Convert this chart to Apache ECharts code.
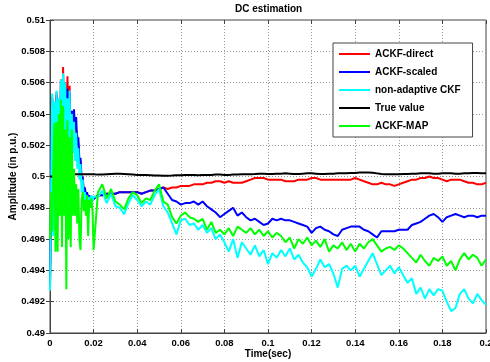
<!DOCTYPE html>
<html>
<head>
<meta charset="utf-8">
<script src="https://cdn.jsdelivr.net/npm/echarts@6/dist/echarts.min.js"></script>
<style>
  html, body { margin: 0; padding: 0; background: #fff; }
  #chart { width: 490px; height: 362px; }
</style>
</head>
<body>
<div id="chart"></div>
<script>
// sample times: 0..0.02 every 0.0005 s, then 0.022..0.2 every 0.002 s
function steps(start, step, n) {
  const out = [];
  for (let i = 0; i < n; i++) out.push(+(start + i * step).toFixed(4));
  return out;
}
const timeEarly = steps(0, 0.0005, 41);
const timeLate = steps(0.022, 0.002, 90);

// values (p.u.)
const directEarly = [0.4930, 0.4992, 0.5051, 0.4966, 0.5047, 0.4973, 0.5054, 0.4979, 0.5050, 0.4993,
  0.5062, 0.4990, 0.5070, 0.5006, 0.5060, 0.4994, 0.5064, 0.5012, 0.5058, 0.5022,
  0.5040, 0.5028, 0.5038, 0.5026, 0.5030, 0.5026, 0.5020, 0.5008, 0.5010, 0.4997,
  0.4999, 0.4989, 0.4992, 0.4986, 0.4989, 0.4985, 0.4987, 0.4984, 0.4986, 0.4985, 0.4986];
const directLate = [0.4988, 0.4988, 0.4989, 0.4989, 0.4989, 0.4990, 0.4990, 0.4990, 0.4990, 0.4990,
  0.4989, 0.4990, 0.4991, 0.4991, 0.4992, 0.4993, 0.4992, 0.4993, 0.4993, 0.4994,
  0.4994, 0.4994, 0.4995, 0.4995, 0.4995, 0.4996, 0.4996, 0.4997, 0.4997, 0.4996,
  0.4997, 0.4996, 0.4996, 0.4996, 0.4997, 0.4998, 0.4999, 0.4999, 0.4999, 0.4998,
  0.4998, 0.4998, 0.4998, 0.4997, 0.4997, 0.4997, 0.4998, 0.4998, 0.4998, 0.4999,
  0.4999, 0.4998, 0.4998, 0.4998, 0.4998, 0.4998, 0.4998, 0.4998, 0.4998, 0.4999,
  0.4998, 0.4997, 0.4996, 0.4995, 0.4995, 0.4996, 0.4995, 0.4995, 0.4994, 0.4995,
  0.4996, 0.4997, 0.4998, 0.4998, 0.4999, 0.4999, 0.5000, 0.4999, 0.4999, 0.4998,
  0.4997, 0.4998, 0.4998, 0.4998, 0.4997, 0.4996, 0.4996, 0.4995, 0.4995, 0.4996];

const scaledEarly = [0.4930, 0.4990, 0.5050, 0.4965, 0.5045, 0.4972, 0.5052, 0.4978, 0.5048, 0.4992,
  0.5060, 0.4988, 0.5065, 0.5005, 0.5058, 0.4992, 0.5056, 0.5010, 0.5054, 0.5020,
  0.5042, 0.5030, 0.5043, 0.5030, 0.5038, 0.5020, 0.5025, 0.5010, 0.5012, 0.4998,
  0.5000, 0.4990, 0.4993, 0.4987, 0.4990, 0.4986, 0.4988, 0.4985, 0.4987, 0.4985, 0.4986];
const scaledLate = [0.4988, 0.4988, 0.4989, 0.4989, 0.4989, 0.4990, 0.4990, 0.4990, 0.4990, 0.4990,
  0.4989, 0.4990, 0.4991, 0.4991, 0.4992, 0.4993, 0.4989, 0.4985, 0.4984, 0.4982,
  0.4983, 0.4983, 0.4984, 0.4982, 0.4984, 0.4981, 0.4979, 0.4977, 0.4974, 0.4976,
  0.4978, 0.4980, 0.4975, 0.4977, 0.4974, 0.4972, 0.4973, 0.4971, 0.4969, 0.4970,
  0.4973, 0.4972, 0.4973, 0.4972, 0.4972, 0.4971, 0.4970, 0.4969, 0.4968, 0.4964,
  0.4967, 0.4968, 0.4966, 0.4965, 0.4963, 0.4962, 0.4966, 0.4967, 0.4968, 0.4968,
  0.4968, 0.4966, 0.4965, 0.4963, 0.4961, 0.4965, 0.4965, 0.4965, 0.4965, 0.4966,
  0.4966, 0.4966, 0.4969, 0.4970, 0.4971, 0.4973, 0.4975, 0.4976, 0.4974, 0.4971,
  0.4974, 0.4975, 0.4976, 0.4975, 0.4974, 0.4975, 0.4975, 0.4974, 0.4975, 0.4975];

const ckfEarly = [0.4927, 0.4990, 0.5053, 0.4962, 0.5048, 0.4970, 0.5055, 0.4975, 0.5050, 0.4990,
  0.5062, 0.4985, 0.5066, 0.5000, 0.5060, 0.4985, 0.5050, 0.5005, 0.5055, 0.5010,
  0.5040, 0.5015, 0.5035, 0.5010, 0.5028, 0.5005, 0.5018, 0.4998, 0.5008, 0.4990,
  0.4998, 0.4985, 0.4990, 0.4983, 0.4988, 0.4982, 0.4987, 0.4983, 0.4988, 0.4984, 0.4987];
const ckfLate = [0.4987, 0.4991, 0.4983, 0.4989, 0.4981, 0.4980, 0.4976, 0.4983, 0.4988, 0.4985,
  0.4981, 0.4984, 0.4982, 0.4988, 0.4992, 0.4981, 0.4977, 0.4970, 0.4963, 0.4972,
  0.4973, 0.4969, 0.4970, 0.4966, 0.4969, 0.4964, 0.4967, 0.4960, 0.4963, 0.4958,
  0.4952, 0.4960, 0.4948, 0.4958, 0.4954, 0.4950, 0.4956, 0.4949, 0.4953, 0.4944,
  0.4951, 0.4948, 0.4953, 0.4949, 0.4954, 0.4947, 0.4950, 0.4945, 0.4942, 0.4936,
  0.4941, 0.4947, 0.4942, 0.4944, 0.4938, 0.4929, 0.4941, 0.4943, 0.4940, 0.4943,
  0.4936, 0.4941, 0.4946, 0.4951, 0.4944, 0.4937, 0.4940, 0.4943, 0.4938, 0.4942,
  0.4937, 0.4932, 0.4935, 0.4925, 0.4929, 0.4922, 0.4928, 0.4924, 0.4928, 0.4927,
  0.4920, 0.4914, 0.4916, 0.4925, 0.4928, 0.4922, 0.4919, 0.4925, 0.4921, 0.4918];

const trueEarly = [0.5000, 0.5000, 0.5000, 0.5000, 0.5000, 0.5000, 0.5000, 0.5000, 0.5000, 0.5000,
  0.5000, 0.5000, 0.5000, 0.5000, 0.5000, 0.50003, 0.50005, 0.50008, 0.5001, 0.50012,
  0.50015, 0.50015, 0.50015, 0.50015, 0.50015, 0.50015, 0.50015, 0.50015, 0.50015, 0.50015,
  0.50015, 0.50015, 0.50015, 0.50015, 0.50015, 0.50015, 0.50015, 0.50015, 0.50015, 0.50015, 0.50015];
const trueLate = [0.50012, 0.50012, 0.50014, 0.50016, 0.50018, 0.50018, 0.50016, 0.50014, 0.50012, 0.5001,
  0.5001, 0.5001, 0.50008, 0.50006, 0.50006, 0.50005, 0.50005, 0.50006, 0.50008, 0.50008,
  0.5001, 0.5001, 0.5001, 0.50008, 0.5001, 0.5001, 0.5001, 0.50012, 0.50012, 0.5001,
  0.5001, 0.50012, 0.50012, 0.50014, 0.50014, 0.50015, 0.50016, 0.50018, 0.50018, 0.50016,
  0.50016, 0.50018, 0.50018, 0.5002, 0.50018, 0.50016, 0.50016, 0.50018, 0.5002, 0.5002,
  0.50018, 0.50016, 0.50016, 0.50018, 0.50018, 0.5002, 0.5002, 0.5002, 0.50022, 0.50022,
  0.50025, 0.50026, 0.50026, 0.50024, 0.5002, 0.50016, 0.50014, 0.50014, 0.50015, 0.50015,
  0.50016, 0.50016, 0.50018, 0.50018, 0.5002, 0.5002, 0.5002, 0.50018, 0.50018, 0.5002,
  0.5002, 0.5002, 0.50018, 0.50018, 0.5002, 0.5002, 0.50022, 0.50022, 0.5002, 0.5002];

const mapEarly = [0.4960, 0.4990, 0.4965, 0.5005, 0.5034, 0.4952, 0.5035, 0.4952, 0.5040, 0.4975,
  0.5049, 0.4955, 0.5045, 0.4975, 0.5030, 0.4928, 0.5036, 0.4960, 0.5025, 0.4955,
  0.5030, 0.4975, 0.5005, 0.4975, 0.4995, 0.4970, 0.4992, 0.4960, 0.4953, 0.4985,
  0.4990, 0.4978, 0.4985, 0.4975, 0.4988, 0.4962, 0.4985, 0.4980, 0.4986, 0.4978, 0.4953];
const mapLate = [0.4990, 0.4995, 0.4986, 0.4992, 0.4984, 0.4982, 0.4979, 0.4986, 0.4990, 0.4988,
  0.4983, 0.4986, 0.4985, 0.4991, 0.4995, 0.4984, 0.4982, 0.4974, 0.4970, 0.4975,
  0.4977, 0.4974, 0.4973, 0.4971, 0.4973, 0.4966, 0.4971, 0.4964, 0.4966, 0.4963,
  0.4967, 0.4962, 0.4968, 0.4966, 0.4964, 0.4967, 0.4963, 0.4966, 0.4962, 0.4965,
  0.4961, 0.4964, 0.4962, 0.4958, 0.4961, 0.4954, 0.4960, 0.4957, 0.4961, 0.4956,
  0.4959, 0.4955, 0.4960, 0.4952, 0.4956, 0.4954, 0.4958, 0.4953, 0.4957, 0.4952,
  0.4957, 0.4954, 0.4958, 0.4960, 0.4956, 0.4952, 0.4954, 0.4955, 0.4953, 0.4956,
  0.4954, 0.4951, 0.4948, 0.4945, 0.4950, 0.4946, 0.4943, 0.4948, 0.4946, 0.4949,
  0.4943, 0.4946, 0.4940, 0.4947, 0.4951, 0.4947, 0.4950, 0.4948, 0.4943, 0.4947];

const timeAll = timeEarly.concat(timeLate);
function pairs(early, late) {
  const vals = early.concat(late);
  return timeAll.map((t, i) => [t, vals[i]]);
}

const chart = echarts.init(document.getElementById("chart"));
const font = "Liberation Sans, Arial, sans-serif";

function line(name, color, data) {
  return {
    name: name,
    type: "line",
    data: data,
    symbol: "none",
    animation: false,
    lineStyle: { color: color, width: 2 },
    itemStyle: { color: color },
  };
}

const option = {
  backgroundColor: "#fff",
  title: {
    text: "DC estimation",
    left: 235,
    top: 4,
    padding: 0,
    textStyle: { fontFamily: font, fontSize: 10, fontWeight: "bold", color: "#000" },
  },
  grid: {
    left: 50, right: 4, top: 20, bottom: 29,
    outerBoundsMode: "none",
    show: true, borderColor: "#444", borderWidth: 1,
  },
  legend: {
    orient: "vertical",
    left: 333,
    top: 43,
    padding: [4, 12, 4, 6],
    icon: "rect",
    itemWidth: 31,
    itemHeight: 2,
    itemGap: 4,
    backgroundColor: "#fff",
    borderColor: "#444",
    borderWidth: 1,
    textStyle: { fontFamily: font, fontSize: 10, fontWeight: "bold", color: "#000", lineHeight: 14 },
    data: ["ACKF-direct", "ACKF-scaled", "non-adaptive CKF", "True value", "ACKF-MAP"],
  },
  xAxis: [
    {
      type: "value",
      min: 0,
      max: 0.2,
      interval: 0.02,
      name: "Time(sec)",
      nameLocation: "middle",
      nameGap: 16,
      nameMoveOverlap: false,
      nameTextStyle: { fontFamily: font, fontSize: 10, fontWeight: "bold", color: "#000" },
      axisLine: { show: true, lineStyle: { color: "#444" } },
      axisTick: { inside: true, length: 4, lineStyle: { color: "#444" } },
      axisLabel: { margin: 5, fontFamily: font, fontSize: 9.5, fontWeight: "bold", color: "#000" },
      splitLine: { show: true, lineStyle: { color: "#999", type: [1, 2] } },
    },
    {
      type: "value",
      position: "top",
      min: 0,
      max: 0.2,
      interval: 0.02,
      axisLine: { show: false },
      axisTick: { inside: true, length: 4, lineStyle: { color: "#444" } },
      axisLabel: { show: false },
      splitLine: { show: false },
    },
  ],
  yAxis: [
    {
      type: "value",
      min: 0.49,
      max: 0.51,
      interval: 0.002,
      name: "Amplitude (in p.u.)",
      nameLocation: "middle",
      nameGap: 32,
      nameMoveOverlap: false,
      nameTextStyle: { fontFamily: font, fontSize: 10, fontWeight: "bold", color: "#000" },
      axisLine: { show: true, lineStyle: { color: "#444" } },
      axisTick: { inside: true, length: 4, lineStyle: { color: "#444" } },
      axisLabel: { margin: 5, fontFamily: font, fontSize: 9.5, fontWeight: "bold", color: "#000" },
      splitLine: { show: true, lineStyle: { color: "#999", type: [1, 2] } },
    },
    {
      type: "value",
      position: "right",
      min: 0.49,
      max: 0.51,
      interval: 0.002,
      axisLine: { show: false },
      axisTick: { inside: true, length: 4, lineStyle: { color: "#444" } },
      axisLabel: { show: false },
      splitLine: { show: false },
    },
  ],
  series: [
    line("ACKF-direct", "#ff0000", pairs(directEarly, directLate)),
    line("ACKF-scaled", "#0000ff", pairs(scaledEarly, scaledLate)),
    line("non-adaptive CKF", "#00ffff", pairs(ckfEarly, ckfLate)),
    line("True value", "#000000", pairs(trueEarly, trueLate)),
    line("ACKF-MAP", "#00ff00", pairs(mapEarly, mapLate)),
  ],
};

chart.setOption(option);
</script>
</body>
</html>
